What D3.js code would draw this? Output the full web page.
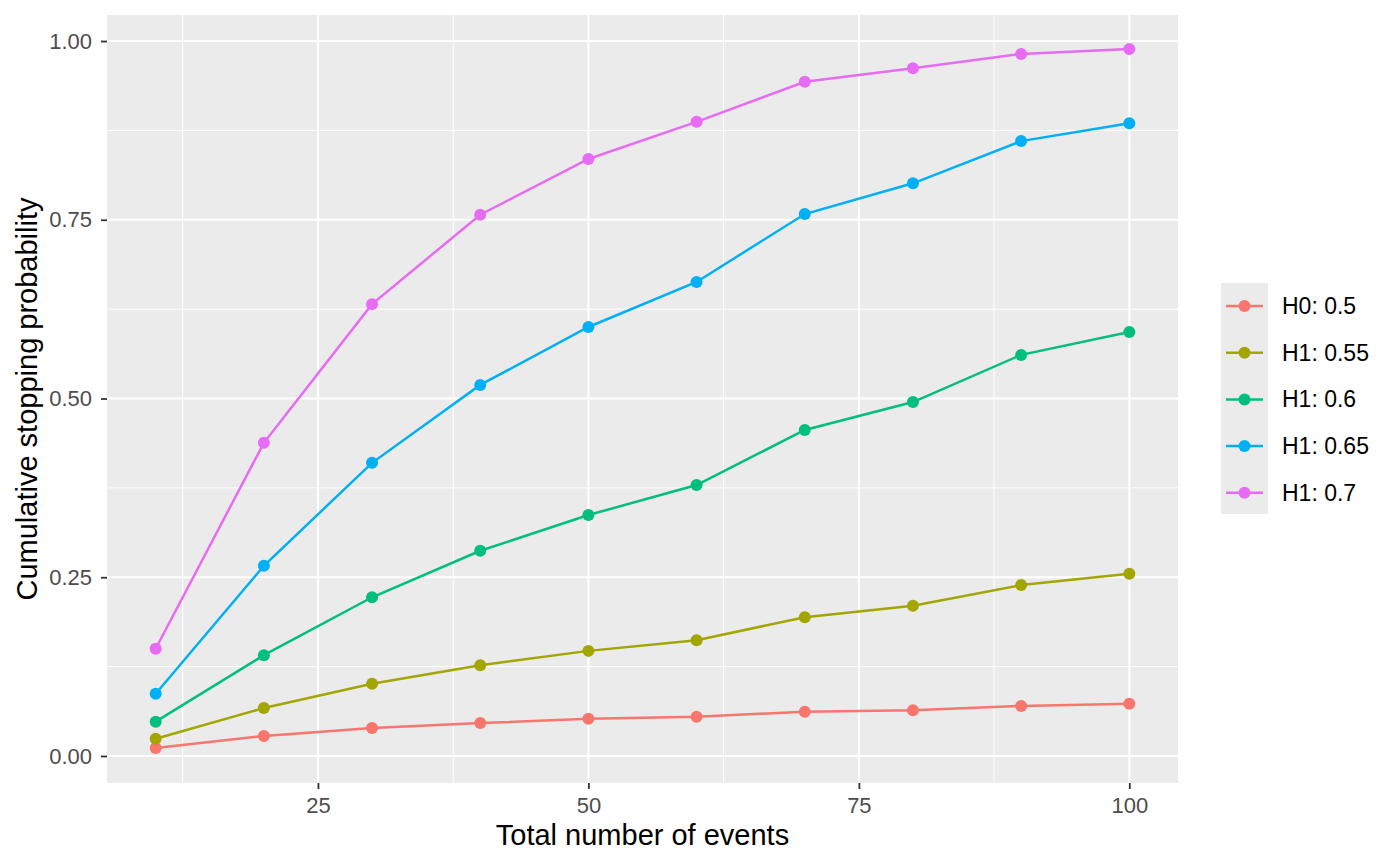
<!DOCTYPE html>
<html>
<head>
<meta charset="utf-8">
<script src="https://cdn.jsdelivr.net/npm/d3@7"></script>
<style>
  body { margin: 0; background: #fff; }
  text { font-family: "Liberation Sans", Arial, sans-serif; }
</style>
</head>
<body>
<script>
const events = [10, 20, 30, 40, 50, 60, 70, 80, 90, 100]
const seriesNames = ["H0: 0.5", "H1: 0.55", "H1: 0.6", "H1: 0.65", "H1: 0.7"]
const h0_50 = [0.011, 0.028, 0.039, 0.046, 0.052, 0.055, 0.062, 0.064, 0.070, 0.073]
const h1_55 = [0.024, 0.067, 0.101, 0.127, 0.147, 0.162, 0.194, 0.210, 0.239, 0.255]
const h1_60 = [0.048, 0.141, 0.222, 0.287, 0.337, 0.379, 0.456, 0.495, 0.561, 0.593]
const h1_65 = [0.087, 0.266, 0.410, 0.519, 0.600, 0.663, 0.758, 0.801, 0.860, 0.885]
const h1_70 = [0.150, 0.438, 0.632, 0.757, 0.835, 0.887, 0.943, 0.962, 0.982, 0.989]
const xTicks = [25, 50, 75, 100]
const xMinor = [12.5, 37.5, 62.5, 87.5]
const yTicks = [0, 0.25, 0.5, 0.75, 1]
const yMinor = [0.125, 0.375, 0.625, 0.875]
const colours = ["#F8766D", "#A3A500", "#00BF7D", "#00B0F6", "#E76BF3"]

const allSeries = [h0_50, h1_55, h1_60, h1_65, h1_70]

const w = 1400, h = 866
const pLeft = 107, pRight = 1178, pTop = 15, pBottom = 783

const svg = d3.select("body").append("svg")
  .attr("width", w)
  .attr("height", h)

const xscale = d3.scaleLinear().domain([5.5, 104.5]).range([pLeft, pRight])
const yscale = d3.scaleLinear().domain([-0.0378, 1.0364]).range([pBottom, pTop])

// panel
svg.append("rect")
  .attr("x", pLeft).attr("y", pTop)
  .attr("width", pRight - pLeft).attr("height", pBottom - pTop)
  .attr("fill", "#ebebeb")

// minor grid
svg.selectAll(".xminor").data(xMinor).enter().append("line")
  .attr("x1", d => xscale(d)).attr("x2", d => xscale(d))
  .attr("y1", pTop).attr("y2", pBottom)
  .attr("stroke", "#fff").attr("stroke-width", 1)
svg.selectAll(".yminor").data(yMinor).enter().append("line")
  .attr("y1", d => yscale(d)).attr("y2", d => yscale(d))
  .attr("x1", pLeft).attr("x2", pRight)
  .attr("stroke", "#fff").attr("stroke-width", 1)

// major grid
svg.selectAll(".xmajor").data(xTicks).enter().append("line")
  .attr("x1", d => xscale(d)).attr("x2", d => xscale(d))
  .attr("y1", pTop).attr("y2", pBottom)
  .attr("stroke", "#fff").attr("stroke-width", 2)
svg.selectAll(".ymajor").data(yTicks).enter().append("line")
  .attr("y1", d => yscale(d)).attr("y2", d => yscale(d))
  .attr("x1", pLeft).attr("x2", pRight)
  .attr("stroke", "#fff").attr("stroke-width", 2)

// axes
const xAxis = d3.axisBottom(xscale).tickValues(xTicks).tickSize(6).tickPadding(8.5)
const gx = svg.append("g")
  .attr("transform", "translate(0," + pBottom + ")")
  .call(xAxis)
gx.select(".domain").remove()
gx.selectAll("line").attr("stroke", "#333").attr("stroke-width", 1.8)
gx.selectAll("text").attr("fill", "#4d4d4d").style("font-size", "22px")

const yAxis = d3.axisLeft(yscale).tickValues(yTicks).tickFormat(d3.format(".2f")).tickSize(6).tickPadding(9)
const gy = svg.append("g")
  .attr("transform", "translate(" + pLeft + ",0)")
  .call(yAxis)
gy.select(".domain").remove()
gy.selectAll("line").attr("stroke", "#333").attr("stroke-width", 1.8)
gy.selectAll("text").attr("fill", "#4d4d4d").style("font-size", "22px")

// titles
svg.append("text")
  .attr("x", (pLeft + pRight) / 2).attr("y", 845)
  .attr("text-anchor", "middle")
  .style("font-size", "29px")
  .text("Total number of events")
svg.append("text")
  .attr("transform", "translate(37," + (pTop + pBottom) / 2 + ") rotate(-90)")
  .attr("text-anchor", "middle")
  .style("font-size", "29px")
  .text("Cumulative stopping probability")

// lines + points
const line = d3.line()
  .x((d, i) => xscale(events[i]))
  .y(d => yscale(d))

allSeries.forEach((s, k) => {
  svg.append("path")
    .datum(s)
    .attr("d", line)
    .attr("fill", "none")
    .attr("stroke", colours[k])
    .attr("stroke-width", 2.5)
  svg.selectAll(".pt" + k).data(s).enter().append("circle")
    .attr("cx", (d, i) => xscale(events[i]))
    .attr("cy", d => yscale(d))
    .attr("r", 6)
    .attr("fill", colours[k])
})

// legend
svg.append("rect")
  .attr("x", 1221).attr("y", 283)
  .attr("width", 47).attr("height", 231)
  .attr("fill", "#ebebeb")
seriesNames.forEach((name, k) => {
  const cy = 306 + k * 46.7
  svg.append("line")
    .attr("x1", 1226).attr("x2", 1263)
    .attr("y1", cy).attr("y2", cy)
    .attr("stroke", colours[k]).attr("stroke-width", 2.5)
  svg.append("circle")
    .attr("cx", 1244.5).attr("cy", cy).attr("r", 6)
    .attr("fill", colours[k])
  svg.append("text")
    .attr("x", 1282).attr("y", cy + 8)
    .style("font-size", "23px")
    .text(name)
})
</script>
</body>
</html>
